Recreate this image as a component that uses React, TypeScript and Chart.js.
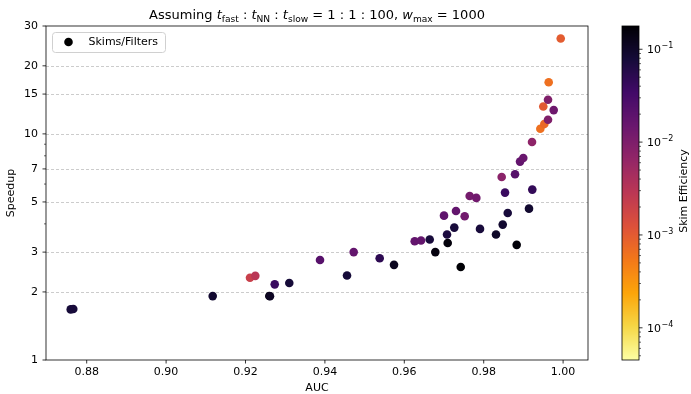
import React, { useEffect, useRef } from "react";
import { Chart, registerables } from "chart.js";

Chart.register(...registerables);

// ---- data ----
const AUC = [
  0.87597, 0.87662, 0.91174, 0.92113, 0.92247, 0.926, 0.92617, 0.92736, 0.93103, 0.93877,
  0.94557, 0.94725, 0.9538, 0.95741, 0.96262, 0.96421, 0.9664, 0.96781, 0.97, 0.97076,
  0.97093, 0.97259, 0.97302, 0.97421, 0.97521, 0.97647, 0.97814, 0.97907, 0.9831, 0.98453,
  0.98479, 0.98537, 0.98605, 0.98789, 0.98831, 0.98915, 0.98997, 0.99141, 0.99217, 0.99224,
  0.99426, 0.99527, 0.9962, 0.99501, 0.9962, 0.99763, 0.99637, 0.9994,
];
const SPEEDUP = [
  1.674, 1.68, 1.917, 2.31, 2.356, 1.92, 1.915, 2.16, 2.19, 2.77,
  2.366, 3.0, 2.82, 2.635, 3.353, 3.375, 3.41, 3.0, 4.35, 3.59,
  3.29, 3.85, 4.56, 2.58, 4.32, 5.31, 5.21, 3.8, 3.59, 6.45,
  3.97, 5.5, 4.47, 6.63, 3.23, 7.54, 7.82, 4.67, 9.2, 5.67,
  10.54, 11.05, 11.55, 13.22, 14.16, 12.74, 16.93, 26.4,
];
const SKIM_EFFICIENCY = [
  0.078, 0.075, 0.09, 0.0021, 0.003, 0.15, 0.11, 0.04, 0.078, 0.022,
  0.078, 0.017, 0.05, 0.117, 0.017, 0.017, 0.075, 0.15, 0.019, 0.07,
  0.16, 0.075, 0.017, 0.175, 0.013, 0.012, 0.013, 0.075, 0.1, 0.0078,
  0.09, 0.04, 0.075, 0.022, 0.165, 0.017, 0.015, 0.09, 0.0071, 0.045,
  0.00064, 0.00076, 0.0098, 0.00105, 0.0098, 0.0137, 0.00064, 0.00097,
];
const X_TICKS = [0.88, 0.9, 0.92, 0.94, 0.96, 0.98, 1.0];
const Y_TICKS = [1, 2, 3, 5, 7, 10, 15, 20, 30];
const Y_MINOR_TICKS = [4, 6, 8, 9];
const Y_GRID = [2, 3, 5, 7, 10, 15, 20];
const CBAR_EXPONENTS = [-1, -2, -3, -4];
const X_MIN = 0.86975;
const X_MAX = 1.00627;
const Y_MIN = 1;
const Y_MAX = 30;
const EFF_MIN = 4.5e-5;
const EFF_MAX = 0.178;
const LEGEND_LABEL = "Skims/Filters";
const X_LABEL = "AUC";
const Y_LABEL = "Speedup";
const CBAR_LABEL = "Skim Efficiency";

const INFERNO = [
  "#000004", "#160b39", "#420a68", "#6a176e", "#932667", "#bc3754",
  "#dd513a", "#f37819", "#fca50a", "#f6d746", "#fcffa4",
];
const FONT = "'DejaVu Sans', sans-serif";

function hexToRgb(h: string) {
  return [parseInt(h.slice(1, 3), 16), parseInt(h.slice(3, 5), 16), parseInt(h.slice(5, 7), 16)];
}
const INF_RGB = INFERNO.map(hexToRgb);
function inferno(t: number) {
  t = Math.max(0, Math.min(1, t));
  const p = t * (INF_RGB.length - 1);
  const i = Math.min(Math.floor(p), INF_RGB.length - 2);
  const f = p - i;
  const a = INF_RGB[i], b = INF_RGB[i + 1];
  return `rgb(${Math.round(a[0] + (b[0] - a[0]) * f)},${Math.round(a[1] + (b[1] - a[1]) * f)},${Math.round(a[2] + (b[2] - a[2]) * f)})`;
}
const LMIN = Math.log10(EFF_MIN);
const LMAX = Math.log10(EFF_MAX);
// reversed inferno on a log norm
function effColor(v: number) {
  const t = (Math.log10(v) - LMIN) / (LMAX - LMIN);
  return inferno(1 - t);
}

const decor = {
  id: "decor",
  beforeDatasetsDraw(chart: any) {
    const { ctx, chartArea: a, scales } = chart;
    const y = scales.y;
    ctx.save();
    ctx.strokeStyle = "rgba(170,170,170,0.75)";
    ctx.lineWidth = 0.8;
    ctx.setLineDash([3, 2]);
    for (const v of Y_GRID) {
      const py = Math.round(y.getPixelForValue(v)) + 0.5;
      ctx.beginPath();
      ctx.moveTo(a.left, py);
      ctx.lineTo(a.right, py);
      ctx.stroke();
    }
    ctx.restore();
  },
  afterDraw(chart: any) {
    const { ctx, chartArea: a, scales } = chart;
    const x = scales.x, y = scales.y;
    ctx.save();
    // frame
    ctx.strokeStyle = "#000";
    ctx.lineWidth = 0.8;
    ctx.strokeRect(a.left, a.top, a.right - a.left, a.bottom - a.top);
    // x ticks
    for (const v of X_TICKS) {
      const px = x.getPixelForValue(v);
      ctx.beginPath();
      ctx.moveTo(px, a.bottom);
      ctx.lineTo(px, a.bottom + 3.5);
      ctx.stroke();
    }
    for (const v of Y_TICKS) {
      const py = y.getPixelForValue(v);
      ctx.beginPath();
      ctx.moveTo(a.left - 3.5, py);
      ctx.lineTo(a.left, py);
      ctx.stroke();
    }
    ctx.lineWidth = 0.6;
    for (const v of Y_MINOR_TICKS) {
      const py = y.getPixelForValue(v);
      ctx.beginPath();
      ctx.moveTo(a.left - 2, py);
      ctx.lineTo(a.left, py);
      ctx.stroke();
    }

    // axis titles
    ctx.fillStyle = "#000";
    ctx.font = `11px ${FONT}`;
    ctx.textAlign = "center";
    ctx.textBaseline = "middle";
    ctx.fillText(X_LABEL, (a.left + a.right) / 2, 388);
    ctx.save();
    ctx.translate(11, (a.top + a.bottom) / 2);
    ctx.rotate(-Math.PI / 2);
    ctx.fillText(Y_LABEL, 0, 0);
    ctx.restore();

    // title with math-like subscripts
    const fs = 13;
    const parts: [string, string][] = [
      ["Assuming ", "n"], ["t", "i"], ["fast", "s"], [" : ", "n"], ["t", "i"], ["NN", "s"],
      [" : ", "n"], ["t", "i"], ["slow", "s"], [" = 1 : 1 : 100, ", "n"], ["w", "i"],
      ["max", "s"], [" = 1000", "n"],
    ];
    const fontFor = (k: string) =>
      k === "i" ? `italic ${fs}px ${FONT}` : k === "s" ? `${(fs * 0.7).toFixed(1)}px ${FONT}` : `${fs}px ${FONT}`;
    let total = 0;
    for (const [s, k] of parts) {
      ctx.font = fontFor(k);
      total += ctx.measureText(s).width;
    }
    let tx = (a.left + a.right) / 2 - total / 2;
    ctx.textAlign = "left";
    ctx.textBaseline = "alphabetic";
    for (const [s, k] of parts) {
      ctx.font = fontFor(k);
      ctx.fillText(s, tx, k === "s" ? 21.5 : 19);
      tx += ctx.measureText(s).width;
    }

    // legend
    const lx = 52, ly = 32, lw = 113, lh = 20;
    ctx.beginPath();
    ctx.roundRect(lx + 0.5, ly + 0.5, lw, lh, 3);
    ctx.fillStyle = "rgba(255,255,255,0.8)";
    ctx.fill();
    ctx.strokeStyle = "#d0d0d0";
    ctx.lineWidth = 1;
    ctx.stroke();
    ctx.beginPath();
    ctx.arc(68.5, 42, 4.3, 0, Math.PI * 2);
    ctx.fillStyle = "#000";
    ctx.fill();
    ctx.font = `11px ${FONT}`;
    ctx.textBaseline = "middle";
    ctx.fillText(LEGEND_LABEL, 88.5, 42);

    // colorbar
    const cx0 = 622, cx1 = 639;
    const ct = a.top, cb = a.bottom;
    const yOf = (lv: number) => ct + ((LMAX - lv) / (LMAX - LMIN)) * (cb - ct);
    for (let py = Math.floor(ct); py < cb; py++) {
      const lv = LMAX - ((py + 0.5 - ct) / (cb - ct)) * (LMAX - LMIN);
      ctx.fillStyle = effColor(Math.pow(10, lv));
      ctx.fillRect(cx0, py, cx1 - cx0, 1);
    }
    ctx.strokeStyle = "#000";
    ctx.lineWidth = 0.8;
    ctx.strokeRect(cx0, ct, cx1 - cx0, cb - ct);
    // minor ticks
    ctx.lineWidth = 0.6;
    for (let e = -5; e <= -1; e++) {
      for (let m = 2; m <= 9; m++) {
        const lv = Math.log10(m) + e;
        if (lv < LMIN || lv > LMAX) continue;
        const py = yOf(lv);
        ctx.beginPath();
        ctx.moveTo(cx1, py);
        ctx.lineTo(cx1 + 2, py);
        ctx.stroke();
      }
    }
    ctx.lineWidth = 0.8;
    ctx.fillStyle = "#000";
    for (const e of CBAR_EXPONENTS) {
      const py = yOf(e);
      ctx.beginPath();
      ctx.moveTo(cx1, py);
      ctx.lineTo(cx1 + 3.5, py);
      ctx.stroke();
      ctx.textBaseline = "alphabetic";
      ctx.font = `11px ${FONT}`;
      ctx.fillText("10", 647, py + 4);
      const w10 = ctx.measureText("10").width;
      ctx.font = `8px ${FONT}`;
      ctx.fillText("\u2212" + Math.abs(e), 647 + w10 + 0.5, py - 1);
    }
    ctx.font = `11px ${FONT}`;
    ctx.textAlign = "center";
    ctx.textBaseline = "middle";
    ctx.save();
    ctx.translate(684, (ct + cb) / 2 - 2);
    ctx.rotate(-Math.PI / 2);
    ctx.fillText(CBAR_LABEL, 0, 0);
    ctx.restore();

    ctx.restore();
  },
};

export default function App() {
  const ref = useRef<HTMLCanvasElement>(null);
  useEffect(() => {
    if (!ref.current) return;
    const data = AUC.map((v, i) => ({ x: v, y: SPEEDUP[i] }));
    const chart = new Chart(ref.current, {
      type: "scatter",
      data: {
        datasets: [
          {
            label: LEGEND_LABEL,
            data,
            pointRadius: 4.3,
            pointHoverRadius: 4.3,
            borderWidth: 0,
            backgroundColor: (c: any) => effColor(SKIM_EFFICIENCY[c.dataIndex] ?? 0.1),
          },
        ],
      },
      options: {
        responsive: false,
        animation: false,
        events: [],
        layout: { padding: { top: 26, right: 103, left: 0, bottom: 0 } },
        plugins: { legend: { display: false }, tooltip: { enabled: false }, title: { display: false } },
        scales: {
          x: {
            type: "linear",
            min: X_MIN,
            max: X_MAX,
            grid: { display: false, drawTicks: false },
            border: { display: false },
            afterBuildTicks: (s: any) => {
              s.ticks = X_TICKS.map((v) => ({ value: v }));
            },
            afterFit: (s: any) => {
              s.height = 34;
            },
            ticks: {
              autoSkip: false,
              maxRotation: 0,
              padding: 6,
              color: "#000",
              font: { family: FONT, size: 11 },
              callback: (v: any) => Number(v).toFixed(2),
            },
          },
          y: {
            type: "logarithmic",
            min: Y_MIN,
            max: Y_MAX,
            grid: { display: false, drawTicks: false },
            border: { display: false },
            afterBuildTicks: (s: any) => {
              s.ticks = Y_TICKS.map((v) => ({ value: v }));
            },
            afterFit: (s: any) => {
              s.width = 46;
            },
            ticks: {
              autoSkip: false,
              padding: 8,
              color: "#000",
              font: { family: FONT, size: 11 },
              callback: (v: any) => String(v),
            },
          },
        },
      },
      plugins: [decor],
    } as any);
    return () => chart.destroy();
  }, []);
  return (
    <div style={{ position: "absolute", left: 0, top: 0, width: 691, height: 394, background: "#fff" }}>
      <canvas ref={ref} width={691} height={394} />
    </div>
  );
}
